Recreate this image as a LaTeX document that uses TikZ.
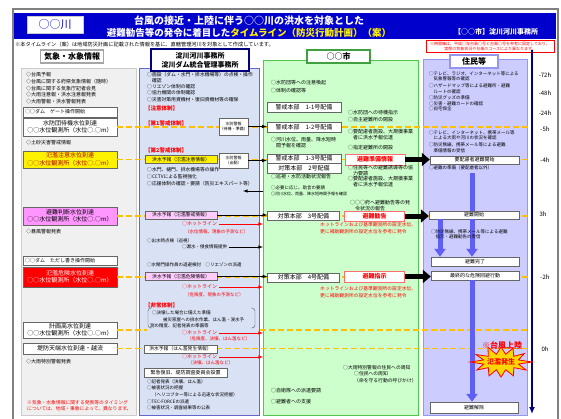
\documentclass[tikz,border=0pt]{standalone}
\usepackage{fontspec}
\setmainfont{Noto Sans CJK JP}
\usepackage{xcolor}
\usepackage{tikz}
\usetikzlibrary{arrows.meta, calc}

\definecolor{titleblue}{RGB}{0,0,204}
\definecolor{axisnavy}{RGB}{0,0,128}
\definecolor{kishofill}{RGB}{240,240,240}
\definecolor{kawafill}{RGB}{217,225,245}
\definecolor{kawaline}{RGB}{102,102,204}
\definecolor{shifill}{RGB}{204,255,204}
\definecolor{shiline}{RGB}{80,200,80}
\definecolor{juminfill}{RGB}{204,204,255}
\definecolor{juminline}{RGB}{150,150,240}
\definecolor{dashorange}{RGB}{255,192,0}
\definecolor{pinkbox}{RGB}{255,150,255}
\definecolor{lightpink}{RGB}{255,204,255}
\definecolor{salmon}{RGB}{255,110,110}
\definecolor{arrowblue}{RGB}{95,95,245}

\newcommand{\szxxs}{\fontsize{4}{5}\selectfont}
\newcommand{\szxs}{\fontsize{4.5}{5.5}\selectfont}
\newcommand{\szs}{\fontsize{5}{6}\selectfont}
\newcommand{\szm}{\fontsize{6}{7.5}\selectfont}
\newcommand{\szl}{\fontsize{8}{9}\selectfont}

\tikzset{
  panel/.style={anchor=north west, inner sep=0pt, line width=0.6pt},
  headbox/.style={fill=white, inner sep=0pt, line width=1.2pt, font=\szl\bfseries},
  gaugebox/.style={draw=gray!80!black, fill=white, inner sep=0pt, minimum width=94pt, align=center, font=\szm},
  plainbox/.style={draw=gray!80!black, fill=white, inner sep=0pt, align=center, font=\szs},
  warnbox/.style={draw=salmon, fill=white, inner sep=0pt, line width=0.8pt, minimum width=60pt, text=red, font=\szm\bfseries},
  txt/.style={anchor=west, inner sep=0pt, align=left, font=\szs},
  smalltxt/.style={txt, font=\szxs},
  redtxt/.style={txt, text=red},
  redhead/.style={txt, text=red, font=\fontsize{5.5}{6}\selectfont\bfseries},
  timelabel/.style={font=\szm, inner sep=0pt},
  levelline/.style={dashorange, line width=1.3pt, dash pattern=on 6pt off 3pt},
  infoarrow/.style={-latex, line width=0.6pt},
  hotarrow/.style={-latex, red, line width=0.6pt},
  bigarrow/.style={line width=5pt, -{Triangle[length=8pt,width=13pt]}},
  bluebar/.style={line width=5pt, arrowblue},
  bluearrow/.style={bluebar, -{Triangle[length=8pt,width=11pt]}},
  burst/.style={fill=yellow!75!orange, draw=red, line width=0.8pt, line join=miter}
}

\begin{document}
\begin{tikzpicture}[x=1pt, y=-1pt]
    \useasboundingbox (0,0) rectangle (561,418);

    % Frame and title
    \draw[gray, line width=2.5pt] (13,9) rectangle (558,440);
    \node[fill=titleblue, minimum width=542pt, minimum height=26pt, inner sep=0pt, anchor=north west] (titlebar) at (14,13) {};
    \node[draw=gray!40, fill=white, minimum width=56pt, minimum height=17pt, inner sep=0pt, font=\fontsize{11}{11}\selectfont, text=titleblue] (river) at (55,24.5) {○○川};
    \node[font=\fontsize{10}{10}\selectfont\bfseries, text=white, inner sep=0pt] (title1) at (249,21) {台風の接近・上陸に伴う○○川の洪水を対象とした};
    \node[font=\fontsize{9.5}{9.5}\selectfont\bfseries, text=white, inner sep=0pt] (title2) at (249,32.5) {避難勧告等の発令に着目した\textcolor{yellow}{タイムライン（防災行動計画）（案）}};
    \node[font=\fontsize{7}{7}\selectfont\bfseries, text=white, inner sep=0pt] (office) at (496,31.5) {【○○市】淀川河川事務所};
    \node[txt, font=\fontsize{5.2}{5.2}\selectfont] (note) at (15,44.5) {※本タイムライン（案）は地域防災計画に記載された情報を基に、直轄管理河川を対象として作成しています。};
    \node[draw=red, fill=white, minimum width=128pt, minimum height=12pt, inner sep=0pt, align=center, text=red, font=\szxxs] (caution) at (490,46) {※時間軸は、平成○年台風○号と台風○号を参考に設定しており、\\実際の気象状況や台風のコースにより異なります。};

    % Columns
    \node[panel, draw=gray!40, fill=kishofill, minimum width=115pt, minimum height=347pt] (kisho) at (21,68) {};
    \node[panel, draw=kawaline, fill=kawafill, minimum width=120pt, minimum height=347pt] (kawa) at (139,68) {};
    \node[panel, draw=shiline, fill=shifill, minimum width=155pt, minimum height=355pt] (shi) at (263,60) {};
    \node[panel, draw=juminline, fill=juminfill, minimum width=104pt, minimum height=356pt] (jumin) at (423,59) {};

    \node[headbox, draw=gray!70, minimum width=63pt, minimum height=13pt] (hkisho) at (72,56.5) {気象・水象情報};
    \node[headbox, draw=axisnavy, minimum width=98pt, minimum height=22pt, align=center, font=\fontsize{7}{9}\selectfont\bfseries] (hkawa) at (200,60) {淀川河川事務所\\淀川ダム統合管理事務所};
    \node[headbox, draw=shiline!80!black, minimum width=63pt, minimum height=13pt] (hshi) at (338.5,56.5) {○○市};
    \node[headbox, draw=juminline, minimum width=48pt, minimum height=13pt] (hjumin) at (474,61.5) {住民等};

    % Time axis
    \coordinate (axtop) at (532,50);
    \coordinate (axbot) at (532,414);
    \draw[axisnavy, line width=1.6pt, -{Latex[length=7pt,width=6pt]}] (axtop) -- (axbot);
    \node[timelabel] (t72) at (545,75) {-72h};
    \node[timelabel] (t48) at (545,93) {-48h};
    \node[timelabel] (t24) at (545,113) {-24h};
    \node[timelabel] (t5) at (545,129) {-5h};
    \node[timelabel] (t4) at (545,160) {-4h};
    \node[timelabel] (t3) at (543,214) {3h};
    \node[timelabel] (t2) at (545,277) {-2h};
    \node[timelabel] (t0) at (545,349) {0h};

    % Weather / water level information
    \node[txt] (k1) at (26,75) {◇台風予報};
    \node[txt] (k2) at (26,82) {◇台風に関する府県気象情報（随時）};
    \node[txt] (k3) at (26,88.5) {◇台風に関する気象庁記者会見};
    \node[txt] (k4) at (26,95) {◇大雨注意報・洪水注意報発表};
    \node[txt] (k5) at (26,102) {◇大雨警報・洪水警報発表};
    \node[gaugebox, minimum height=10pt, font=\szs, align=left, text width=90pt] (damgate) at (70,112) {○○ダム　ゲート操作開始};
    \node[gaugebox, minimum height=18pt] (wl1) at (70,127) {水防団待機水位到達\\○○水位観測所（水位○.○m）};
    \node[txt] (k6) at (26,143) {◇土砂災害警戒情報};
    \node[gaugebox, minimum height=17pt, fill=yellow, text=red!70!black] (wl2) at (70,159.5) {氾濫注意水位到達\\○○水位観測所（水位○.○m）};
    \node[gaugebox, minimum height=18pt, fill=pinkbox] (wl3) at (70,216) {避難判断水位到達\\○○水位観測所（水位○.○m）};
    \node[txt] (k7) at (26,232) {◇暴風警報発表};
    \node[gaugebox, minimum height=9pt, font=\szs, align=left, text width=90pt] (damproviso) at (70,260.5) {○○ダム　ただし書き操作開始};
    \node[gaugebox, minimum height=20pt, fill=red, text=white] (wl4) at (70,277) {氾濫危険水位到達\\○○水位観測所（水位○.○m）};
    \node[gaugebox, minimum height=16pt] (wl5) at (70,330) {計画高水位到達\\○○水位観測所（水位○.○m）};
    \node[gaugebox, minimum height=11pt] (wl6) at (70,348.5) {堤防天端水位到達・越流};
    \node[txt] (k8) at (26,362) {◇大雨特別警報発表};
    \node[redtxt, font=\fontsize{4.8}{6}\selectfont] (k9) at (27,406) {※気象・水象情報に関する発表等のタイミング\\については、地域・事象によって、異なります。};

    % Level lines
    \foreach \g in {wl1,wl2,wl3,wl4,wl6}
        \draw[levelline] (\g.east) -- (\g.east -| jumin.east);
    \draw[levelline] (wl5.east) -- ++(30,0);
    \draw[levelline] (wl5.east -| kawa.east) -- (wl5.east -| jumin.east);

    % River office
    \node[txt, font=\fontsize{4.8}{6}\selectfont] (r1) at (147,78) {○施設（ダム・水門・排水機場等）の点検・操作\\　確認};
    \node[txt, font=\fontsize{4.8}{6}\selectfont] (r2) at (147,87) {○リエゾン体制の確認};
    \node[txt, font=\fontsize{4.8}{6}\selectfont] (r3) at (147,93) {○協力機関の体制確認};
    \node[txt, font=\fontsize{4.8}{6}\selectfont] (r4) at (147,100) {○災害対策用資機材・復旧資機材等の確保};
    \node[redhead] (r5) at (145,108) {【注意体制】};
    \node[redhead] (r6) at (145,123) {【第1警戒体制】};
    \node[plainbox, minimum width=29pt, minimum height=17pt, font=\szxxs] (suibo1) at (233.5,126.5) {水防警報\\（待機・準備）};
    \node[redhead] (r7) at (145,150) {【第2警戒体制】};
    \node[plainbox, minimum width=72pt, minimum height=8pt, fill=yellow, font=\fontsize{4.8}{5}\selectfont] (yoho1) at (181,159.5) {洪水予報（氾濫注意情報）};
    \node[plainbox, minimum width=29pt, minimum height=15pt, font=\szxxs] (suibo2) at (233.5,160.5) {水防警報\\（出動）};
    \node[txt, font=\fontsize{4.8}{6}\selectfont] (r8) at (147,170) {○水門、樋門、排水機場等の操作};
    \node[txt, font=\fontsize{4.8}{6}\selectfont] (r9) at (147,177) {○CCTVによる監視強化};
    \node[txt, font=\fontsize{4.8}{6}\selectfont] (r10) at (147,184) {○応援体制の確認・要請（防災エキスパート等）};
    \coordinate (jogen) at (243,191);
    \node[plainbox, minimum width=72pt, minimum height=8pt, fill=lightpink, font=\fontsize{4.8}{5}\selectfont] (yoho2) at (181,215) {洪水予報（氾濫警戒情報）};
    \node[redtxt] (hot1) at (182,224) {○ホットライン};
    \node[redtxt, font=\szxs] (hot1note) at (185,232) {（水位情報、現象の予測など）};
    \node[txt, font=\szxs] (r11) at (147,241) {○出水時点検（巡視）};
    \node[txt, font=\szxs] (rosui) at (182,247) {○漏水・侵食情報提供};
    \node[txt, font=\szxs] (r12) at (147,265) {○水閘門操作員の退避検討　○リエゾンの派遣};
    \node[plainbox, minimum width=72pt, minimum height=8pt, fill=lightpink, font=\fontsize{4.8}{5}\selectfont] (yoho3) at (181,276.5) {洪水予報（氾濫危険情報）};
    \node[redtxt] (hot2) at (182,287) {○ホットライン};
    \node[redtxt, font=\szxs] (hot2note) at (185,295) {（危険度、現象の予測など）};
    \node[redhead] (r13) at (145,305) {【非常体制】};
    \draw[gray!70!black, rounded corners=3pt] (152,308) -- (148,308) -- (148,328) -- (152,328);
    \draw[gray!70!black, rounded corners=3pt] (251,308) -- (255,308) -- (255,328) -- (251,328);
    \node[txt, font=\szxs] (r14) at (152,313) {○決壊した場合に備えた準備};
    \node[txt, font=\szxs] (r15) at (163,320) {被災家屋への排水作業、はん濫・浸水予};
    \node[txt, font=\szxs] (r16) at (150,326) {測の精度、記者発表の準備等};
    \node[redtxt] (hot3) at (182,333) {○ホットライン};
    \node[redtxt, font=\szxs] (hot3note) at (187,339) {（危険度、決壊、はん濫など）};
    \node[plainbox, minimum width=73pt, minimum height=8pt, font=\fontsize{4.8}{5}\selectfont] (yoho4) at (180.5,349) {洪水予報（はん濫発生情報）};
    \node[redtxt] (hot4) at (182,357) {○ホットライン};
    \node[redtxt, font=\szxs] (hot4note) at (188,363) {（決壊、はん濫など）};
    \node[plainbox, minimum width=83pt, minimum height=9pt] (kinkyu) at (185.5,372.5) {緊急復旧、堤防調査委員会設置};
    \node[txt, font=\szxs] (r17) at (147,382) {○記者発表（決壊、はん濫）};
    \node[txt, font=\szxs] (r18) at (147,388) {○被害状況の把握};
    \node[txt, font=\szxs] (r19) at (152,395) {（ヘリコプター等による迅速な状況把握）};
    \node[txt, font=\szxs] (r20) at (147,402) {○TEC-FORCEの派遣};
    \node[txt, font=\szxs] (r21) at (147,408) {○被害状況・調査結果等の公表};

    % City
    \node[txt] (c1) at (271,83) {○水防団等への注意喚起};
    \node[txt] (c2) at (271,91) {○体制の確認等};
    \node[plainbox, minimum width=74pt, minimum height=10pt, font=\szm] (keikai1) at (304,107) {警戒本部\quad 1-1号配備};
    \node[txt] (c3) at (348,113) {○水防団への待機指示};
    \node[txt] (c4) at (348,120) {○自主避難所の開設};
    \node[plainbox, minimum width=74pt, minimum height=10pt, font=\szm] (keikai2) at (304,127) {警戒本部\quad 1-2号配備};
    \node[txt, font=\fontsize{5}{5.5}\selectfont] (c5) at (348,134.5) {○要配慮者施設、大規模事業\\　者に洪水予報伝達};
    \node[txt, font=\fontsize{5}{5.5}\selectfont] (c6) at (271,142.5) {○河川水位、雨量、降水短時\\　間予報を確認};
    \node[txt] (c7) at (348,148) {○指定避難所の開設};
    \node[plainbox, minimum width=74pt, minimum height=9pt, font=\szm] (keikai3) at (304,158.5) {警戒本部\quad 1-3号配備};
    \node[plainbox, minimum width=74pt, minimum height=10pt, font=\szm] (taisaku2) at (304,168) {対策本部\quad 2号配備};
    \node[warnbox, minimum height=11pt] (junbi) at (375,159.5) {避難準備情報};
    \node[txt, font=\fontsize{5}{5.5}\selectfont] (c8) at (348,170.5) {○住民等への避難誘導等の協\\　力要請};
    \node[txt] (c9) at (271,177) {○巡視・水防活動状況報告};
    \node[txt, font=\fontsize{5}{5.5}\selectfont] (c10) at (348,181.5) {○要配慮者施設、大規模事業\\　者に洪水予報伝達};
    \node[txt, font=\szxs] (c11) at (271,188) {○必要に応じ、助言の要請};
    \node[txt, font=\szxxs] (c12) at (271,194) {○河川水位、雨量、降水短時間予報を確認};
    \node[txt, font=\fontsize{5}{5.5}\selectfont] (c13) at (350,205.5) {○○○府へ避難勧告等の発\\　令状況の報告};
    \node[plainbox, minimum width=72pt, minimum height=9pt, font=\szm] (taisaku3) at (303.5,216) {対策本部\quad 3号配備};
    \node[warnbox, minimum height=10pt] (kankoku) at (374.5,216) {避難勧告};
    \node[redtxt, font=\fontsize{4.8}{7}\selectfont] (c14) at (320,228.5) {ホットラインおよび基準観測所の設定水位、\\更に補助観測所の設定水位を参考に発令};
    \node[plainbox, minimum width=72pt, minimum height=9pt, font=\szm] (taisaku4) at (303.5,277.5) {対策本部\quad 4号配備};
    \node[warnbox, minimum height=11pt] (shiji) at (374.5,276.5) {避難指示};
    \node[redtxt, font=\fontsize{4.8}{7.5}\selectfont] (c15) at (320,292) {ホットラインおよび基準観測所の設定水位、\\更に補助観測所の設定水位を参考に発令};
    \node[txt, font=\fontsize{4.8}{6}\selectfont] (c16) at (343,368) {○大雨特別警報の住民への周知};
    \node[txt, font=\fontsize{4.8}{7}\selectfont] (c17) at (354,377.5) {○住民への周知\\（命を守る行動の呼びかけ）};
    \node[txt] (c18) at (271,391) {○自衛隊への派遣要請};
    \node[txt] (c19) at (271,402) {○避難者への支援};

    % Residents
    \node[smalltxt] (j1) at (429,76.5) {○テレビ、ラジオ、インターネット等による\\　気象警報等の確認};
    \node[smalltxt] (j2) at (429,89) {○ハザードマップ等による避難所・避難\\　ルートの確認};
    \node[smalltxt] (j3) at (429,98) {○防災グッズの準備};
    \node[smalltxt] (j4) at (429,103.5) {○災害・避難カードの確認};
    \node[smalltxt] (j5) at (429,109) {○自宅保全};
    \node[smalltxt] (j6) at (429,135.5) {○テレビ、インターネット、携帯メール等\\　による大雨や河川の状況を確認};
    \node[smalltxt] (j7) at (429,148) {○防災無線、携帯メール等による避難\\　準備情報の受信};
    \node[plainbox, minimum width=89pt, minimum height=8pt] (yohai) at (474.5,160) {要配慮者避難開始};
    \node[smalltxt] (j8) at (429,168) {○避難の準備（要配慮者以外）};
    \node[plainbox, minimum width=90pt, minimum height=8pt] (hinan1) at (474,215) {避難開始};
    \node[plainbox, minimum width=88pt, minimum height=9pt] (kanryo) at (475,261.5) {避難完了};
    \node[plainbox, minimum width=88pt, minimum height=9pt] (saishu) at (475,275.5) {最終的な危険回避行動};
    \node[plainbox, minimum width=88pt, minimum height=11pt] (kaijo) at (474,407.5) {避難解除};

    % Evacuation flow
    \coordinate (barstart) at (472,173);
    \coordinate (evacL) at (440,0);
    \coordinate (evacR) at (472,0);
    \draw[bluebar] (barstart) -- (barstart |- hinan1.north);
    \draw[bluearrow] (hinan1.south -| evacL) -- (kanryo.north -| evacL);
    \draw[bluearrow] (hinan1.south -| evacR) -- (kanryo.north -| evacR);
    \draw[bluearrow] (saishu.south -| evacR) -- (kaijo.north -| evacR);
    \node[smalltxt] (j9) at (431,234.5) {○防災無線、携帯メール等による避難\\　指示・避難勧告の受信};

    % Landfall
    \node[text=red, font=\fontsize{8}{8}\selectfont\bfseries, inner sep=0pt] (jorik) at (502,345) {※台風上陸};
    \coordinate (hanran) at (501,362);
    \draw[burst] ($(hanran)+(0:31pt and 15pt)$)
        \foreach \a/\rx/\ry in {0/31/15,30/27/17,60/24/16,90/22/15,120/26/17,150/29/15,180/31/14,210/28/16,240/24/16,270/21/15,300/25/16,330/29/16} {
            -- ($(hanran)+(\a:\rx pt and \ry pt)$) -- ($(hanran)+(\a+15:18pt and 8pt)$)
        } -- cycle;
    \node[text=red, font=\fontsize{7}{7}\selectfont\bfseries, inner sep=0pt] (hanrantxt) at (hanran) {氾濫発生};

    % Connections
    \draw[infoarrow] (suibo1.east) -- (suibo1.east -| keikai2.west);
    \draw[infoarrow] (suibo2.east) -- (suibo2.east -| keikai3.west);
    \draw[infoarrow] (jogen -| shi.west) -- (jogen);
    \draw[infoarrow] (yoho2.east) -- (yoho2.east -| taisaku3.west);
    \draw[infoarrow] ([xshift=2pt]rosui.east) -- (rosui.east -| shi.west);
    \draw[infoarrow] (yoho3.east) -- (yoho3.east -| taisaku4.west);
    \foreach \h in {hot1,hot2,hot3,hot4}
        \draw[hotarrow] ([xshift=2pt]\h.east) -- (\h.east -| shi.west);
    \draw[bigarrow] (junbi.east) -- (junbi.east -| yohai.west);
    \draw[bigarrow] (kankoku.east) -- (kankoku.east -| hinan1.west);
    \draw[bigarrow] (shiji.east) -- (shiji.east -| saishu.west);
\end{tikzpicture}
\end{document}
